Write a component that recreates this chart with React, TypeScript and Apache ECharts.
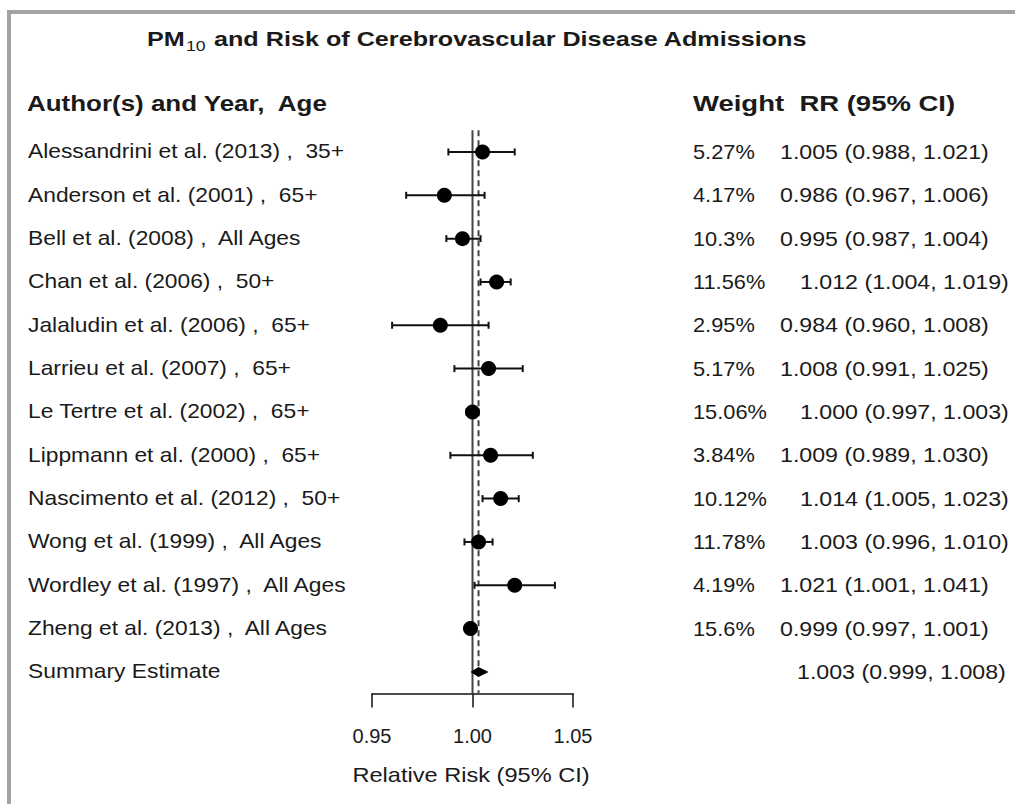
import React, { useEffect, useRef } from "react";
import * as echarts from "echarts";

const studies = [
  "Alessandrini et al. (2013) ,  35+",
  "Anderson et al. (2001) ,  65+",
  "Bell et al. (2008) ,  All Ages",
  "Chan et al. (2006) ,  50+",
  "Jalaludin et al. (2006) ,  65+",
  "Larrieu et al. (2007) ,  65+",
  "Le Tertre et al. (2002) ,  65+",
  "Lippmann et al. (2000) ,  65+",
  "Nascimento et al. (2012) ,  50+",
  "Wong et al. (1999) ,  All Ages",
  "Wordley et al. (1997) ,  All Ages",
  "Zheng et al. (2013) ,  All Ages",
];
const summaryLabel = "Summary Estimate";
const estimates = [1.005, 0.986, 0.995, 1.012, 0.984, 1.008, 1.0, 1.009, 1.014, 1.003, 1.021, 0.999];
const lower = [0.988, 0.967, 0.987, 1.004, 0.96, 0.991, 0.997, 0.989, 1.005, 0.996, 1.001, 0.997];
const upper = [1.021, 1.006, 1.004, 1.019, 1.008, 1.025, 1.003, 1.03, 1.023, 1.01, 1.041, 1.001];
const weights = ["5.27%", "4.17%", "10.3%", "11.56%", "2.95%", "5.17%", "15.06%", "3.84%", "10.12%", "11.78%", "4.19%", "15.6%"];
const summary = { est: 1.003, lo: 0.999, hi: 1.008 };
const nullValue = 1.0;
const titleMain = "PM";
const titleSub = "10";
const titleRest = " and Risk of Cerebrovascular Disease Admissions";
const headerLeft = "Author(s) and Year,  Age";
const headerRight = "Weight  RR (95% CI)";
const xAxisName = "Relative Risk (95% CI)";

const FONT = "'Liberation Sans', Arial, Helvetica, sans-serif";
const INK = "#1a1a1a";

export default function App() {
  const ref = useRef<HTMLDivElement>(null);
  useEffect(() => {
    document.body.style.margin = "0";
    if (!ref.current) return;
    const chart = echarts.init(ref.current, null, { renderer: "svg" });

    const categories = [...studies, summaryLabel];
    const nRows = categories.length;
    const gridTop = 130.3;
    const gridHeight = 563.3;
    const rowH = gridHeight / nRows;
    const rowY = (i: number) => gridTop + (i + 0.5) * rowH;
    const fmt = (v: number) => v.toFixed(3);
    const body = (text: string, x: number, y: number, sx: number, align = "left") => ({
      type: "text",
      x,
      y,
      scaleX: sx,
      silent: true,
      style: { text, font: `20px ${FONT}`, fill: INK, textVerticalAlign: "middle", textAlign: align },
    });

    const graphics: any[] = [
      {
        type: "rect",
        shape: { x: 9, y: 12, width: 1100, height: 900 },
        style: { fill: "none", stroke: "#a3a3a3", lineWidth: 4 },
        silent: true,
      },
      {
        type: "text",
        x: 147,
        y: 42,
        scaleX: 1.26,
        silent: true,
        style: {
          text: `{a|${titleMain}}{s|${titleSub}}{a|${titleRest}}`,
          textVerticalAlign: "middle",
          rich: {
            a: { font: `bold 20px ${FONT}`, fill: INK, lineHeight: 22, verticalAlign: "bottom", padding: [0, 0, 4, 0] },
            s: { font: `14px ${FONT}`, fill: INK, lineHeight: 22, verticalAlign: "bottom", padding: [0, 1, 0, 1] },
          },
        },
      },
      {
        type: "text",
        x: 27,
        y: 103,
        scaleX: 1.18,
        silent: true,
        style: { text: headerLeft, font: `bold 22px ${FONT}`, fill: INK, textVerticalAlign: "middle" },
      },
      {
        type: "text",
        x: 693,
        y: 103,
        scaleX: 1.25,
        silent: true,
        style: { text: headerRight, font: `bold 22px ${FONT}`, fill: INK, textVerticalAlign: "middle" },
      },
      body(xAxisName, 471, 775, 1.18, "center"),
    ];
    categories.forEach((name, i) => graphics.push(body(name, 28, rowY(i), 1.14)));
    weights.forEach((w, i) => {
      graphics.push(body(w, 693, rowY(i), 1.09));
      const rrX = w.length >= 6 ? 800 : 780;
      graphics.push(body(`${fmt(estimates[i])} (${fmt(lower[i])}, ${fmt(upper[i])})`, rrX, rowY(i), 1.16));
    });
    graphics.push(body(`${fmt(summary.est)} (${fmt(summary.lo)}, ${fmt(summary.hi)})`, 797, rowY(nRows - 1), 1.16));

    const ciData = studies.map((_, i) => [lower[i], upper[i], i]);
    const ptData = studies.map((_, i) => [estimates[i], i]);
    const refLines = [
      [nullValue, 0],
      [summary.est, 1],
    ];

    chart.setOption({
      animation: false,
      grid: { left: 372, width: 201, top: gridTop, height: gridHeight },
      xAxis: {
        type: "value",
        min: 0.95,
        max: 1.05,
        interval: 0.05,
        splitLine: { show: false },
        axisLine: { show: true, onZero: false, lineStyle: { color: "#111", width: 1.5 } },
        axisTick: { show: true, length: 14, lineStyle: { color: "#111", width: 1.5 } },
        axisLabel: {
          formatter: (v: number) => v.toFixed(2),
          fontSize: 20,
          fontFamily: FONT,
          color: INK,
          margin: 32,
          showMinLabel: true,
          showMaxLabel: true,
        },
      },
      yAxis: {
        type: "category",
        data: categories,
        inverse: true,
        show: false,
      },
      graphic: graphics,
      series: [
        {
          type: "custom",
          name: "reference lines",
          data: refLines,
          z: 1,
          silent: true,
          renderItem: (params: any, api: any) => {
            const cs = params.coordSys;
            const x = api.coord([api.value(0), 0])[0];
            const dashed = api.value(1) === 1;
            return {
              type: "line",
              shape: { x1: x, y1: cs.y, x2: x, y2: cs.y + cs.height },
              style: { stroke: "#444", lineWidth: 2, lineDash: dashed ? [6, 4] : null },
            };
          },
        },
        {
          type: "custom",
          name: "ci",
          data: ciData,
          z: 3,
          renderItem: (params: any, api: any) => {
            const a = api.coord([api.value(0), api.value(2)]);
            const b = api.coord([api.value(1), api.value(2)]);
            const st = { stroke: "#111", lineWidth: 2 };
            return {
              type: "group",
              children: [
                { type: "line", shape: { x1: a[0], y1: a[1], x2: b[0], y2: b[1] }, style: st },
                { type: "line", shape: { x1: a[0], y1: a[1] - 3.5, x2: a[0], y2: a[1] + 3.5 }, style: st },
                { type: "line", shape: { x1: b[0], y1: b[1] - 3.5, x2: b[0], y2: b[1] + 3.5 }, style: st },
              ],
            };
          },
        },
        {
          type: "scatter",
          name: "est",
          data: ptData,
          symbol: "circle",
          symbolSize: 15,
          itemStyle: { color: "#000", opacity: 1 },
          z: 4,
        },
        {
          type: "custom",
          name: "summary",
          data: [[summary.lo, summary.est, summary.hi, nRows - 1]],
          z: 4,
          renderItem: (params: any, api: any) => {
            const y = api.value(3);
            const l = api.coord([api.value(0), y]);
            const m = api.coord([api.value(1), y]);
            const r = api.coord([api.value(2), y]);
            return {
              type: "polygon",
              shape: { points: [[l[0], l[1]], [m[0], m[1] - 5], [r[0], r[1]], [m[0], m[1] + 5]] },
              style: { fill: "#000" },
            };
          },
        },
      ],
    });
    return () => chart.dispose();
  }, []);
  return <div ref={ref} style={{ width: 1015, height: 804 }} />;
}
